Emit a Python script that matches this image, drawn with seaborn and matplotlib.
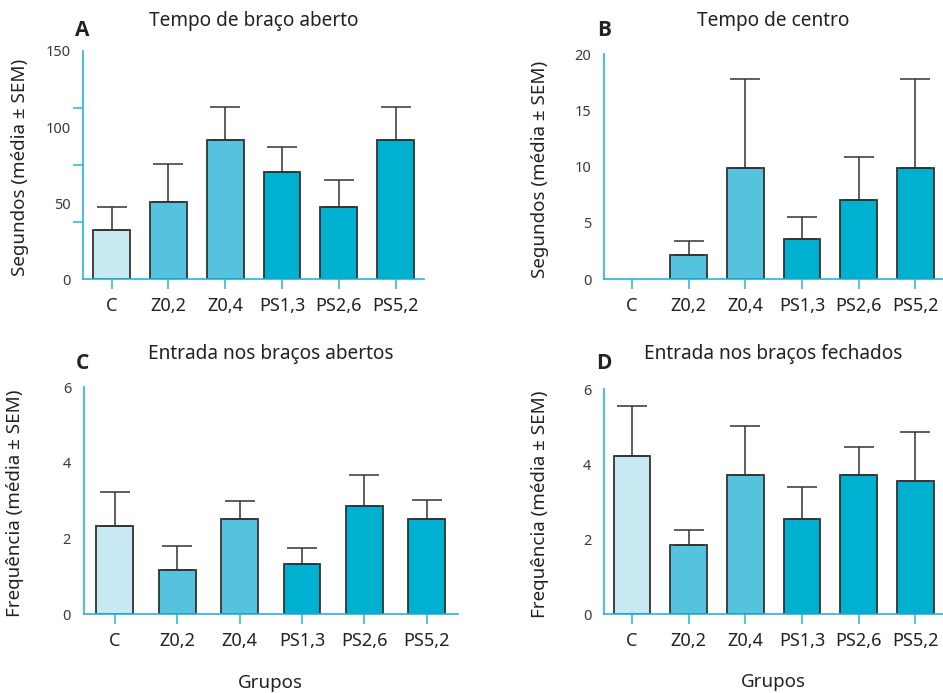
import numpy as np
import pandas as pd
import matplotlib
matplotlib.use("Agg")
import matplotlib.pyplot as plt
import seaborn as sns

# data (mean and SEM per group)
groups = ["C", "Z0,2", "Z0,4", "PS1,3", "PS2,6", "PS5,2"]

braco_aberto_mean = [32.7, 51.1, 91.2, 70.4, 47.8, 91.7]
braco_aberto_sem = [15.1, 24.8, 22.2, 16.4, 17.6, 21.2]

centro_mean = [0.0, 2.16, 9.91, 3.58, 7.07, 9.88]
centro_sem = [0.0, 1.24, 7.84, 1.95, 3.79, 7.93]

entrada_aberto_mean = [2.33, 1.17, 2.51, 1.33, 2.85, 2.52]
entrada_aberto_sem = [0.90, 0.64, 0.48, 0.43, 0.84, 0.49]

entrada_fechado_mean = [4.23, 1.84, 3.70, 2.53, 3.70, 3.54]
entrada_fechado_sem = [1.33, 0.40, 1.33, 0.85, 0.77, 1.31]

titles = ["Tempo de braço aberto", "Tempo de centro",
          "Entrada nos braços abertos", "Entrada nos braços fechados"]
letters = ["A", "B", "C", "D"]

palette = {"C": "#c8e8f2", "Z0,2": "#55c3de", "Z0,4": "#55c3de",
           "PS1,3": "#00b0d0", "PS2,6": "#00b0d0", "PS5,2": "#00b0d0"}
spine_col = "#22b5d8"
dark = "#333333"

sns.set_style("ticks")
plt.rcParams['font.family'] = ['Noto Sans', 'DejaVu Sans']

W, H = 943, 693
fig = plt.figure(figsize=(W / 100, H / 100), dpi=100)


def px_axes(left, top, right, bottom):
    return fig.add_axes([left / W, 1 - bottom / H, (right - left) / W, (bottom - top) / H])


panels = [
    # means, sems, ylim, labelled ticks, tick marks, ylabel, box(px), xlabel, width
    (braco_aberto_mean, braco_aberto_sem, 150, [0, 50, 100, 150], np.linspace(0, 150, 5),
     "Segundos (média ± SEM)", (83.3, 51, 424, 279.3), False, 0.65),
    (centro_mean, centro_sem, 20, [0, 5, 10, 15, 20], [0, 5, 10, 15, 20],
     "Segundos (média ± SEM)", (603.7, 54, 943.6, 279.3), False, 0.65),
    (entrada_aberto_mean, entrada_aberto_sem, 6, [0, 2, 4, 6], [0, 2, 4, 6],
     "Frequência (média ± SEM)", (83.6, 387.3, 458, 614), True, 0.59),
    (entrada_fechado_mean, entrada_fechado_sem, 6, [0, 2, 4, 6], [0, 2, 4, 6],
     "Frequência (média ± SEM)", (603.7, 389.3, 943.6, 614), True, 0.65),
]

for k, (means, sems, ymax, yt, ymarks, ylab, box, has_xlab, bw) in enumerate(panels):
    ax = px_axes(*box)
    df = pd.DataFrame({"grupo": groups, "valor": means})
    sns.barplot(data=df, x="grupo", y="valor", hue="grupo", palette=palette,
                order=groups, legend=False, width=bw, edgecolor=dark, saturation=1,
                linewidth=1.3, errorbar=None, ax=ax)
    for p in ax.patches:
        if p.get_height() == 0:
            p.set_linewidth(0)
    xs = np.arange(len(groups))
    m = np.array(means)
    s = np.array(sems)
    keep = s > 0
    ax.errorbar(xs[keep], m[keep], yerr=[np.zeros(keep.sum()), s[keep]],
                fmt="none", ecolor=dark, elinewidth=1.1, capsize=10.5, capthick=1.1)
    ax.set_xlim(-0.5, len(groups) - 0.5)
    ax.set_ylim(0, ymax)

    ax.set_yticks(yt)
    ax.set_yticks(ymarks, minor=True)
    ax.tick_params(axis="y", which="major", length=0, pad=9, labelsize=10.5, labelcolor="#3a3a3a")
    ax.tick_params(axis="y", which="minor", length=7, width=1.1, color=spine_col)
    ax.tick_params(axis="x", length=7, width=1.1, color=spine_col, pad=6,
                   labelsize=13, labelcolor="#222222")

    sns.despine(ax=ax)
    for side in ["left", "bottom"]:
        ax.spines[side].set_color(spine_col)
        ax.spines[side].set_linewidth(1.2)
        ax.spines[side].set_zorder(5)

    ax.set_ylabel(ylab, fontsize=13.5, color="#222222")
    ax.yaxis.set_label_coords(-0.16, 0.49)
    if has_xlab:
        ax.set_xlabel("Grupos", fontsize=13.5, color="#222222", va="baseline")
        ax.xaxis.set_label_coords(0.5, -0.326)
    else:
        ax.set_xlabel("")

    top_px = box[1]
    h_px = box[3] - box[1]
    w_px = box[2] - box[0]
    title_base = 26 if k < 2 else 359.3
    letter_base = 36 if k < 2 else 369
    letter_left = [75, 596.7, 76, 596][k]
    ax.set_title(titles[k], fontsize=13.7, color="#222222", pad=0,
                 y=1 + (top_px - title_base) / h_px, va="baseline")
    ax.text((letter_left - box[0]) / w_px, 1 + (top_px - letter_base) / h_px, letters[k],
            transform=ax.transAxes, fontsize=15, fontweight="bold", color="#222222",
            family=["Open Sans", "DejaVu Sans"], ha="left", va="baseline")

fig.savefig("out.png", dpi=100)
